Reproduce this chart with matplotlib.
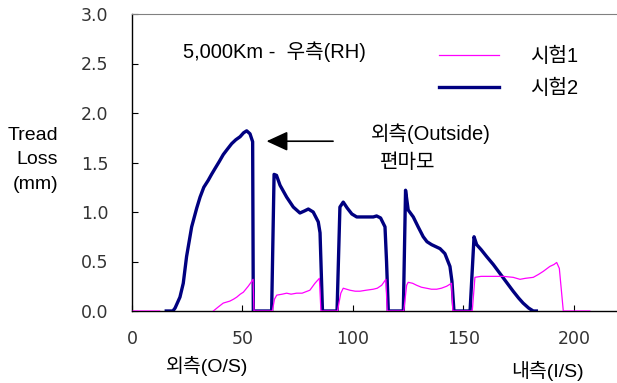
import numpy as np
import matplotlib
matplotlib.use("Agg")
import matplotlib.pyplot as plt

plt.rcParams["font.family"] = ["Liberation Sans", "Noto Sans CJK KR", "DejaVu Sans"]

# 시험1: position across the tread (mm) vs. tread loss (mm); NaN breaks the line
test1_x = [0.5, 12.5, np.nan,
           36.8, 39.0, 41.3, 44.3, 46.0, 47.4, 49.0, 50.4, 52.6, 54.2, 54.8, 55.2,
           63.5, 64.5, 65.5, 68.0, 70.0, 72.0, 74.5, 77.0, 80.5, 82.8, 84.8, 85.5,
           93.0, 94.5, 95.6, 98.6, 101.0, 103.2, 106.0, 109.2, 111.0, 113.0, 114.9, 115.5,
           123.0, 124.3, 125.0, 127.0, 128.8, 131.0, 133.3, 135.5, 137.9, 140.0, 142.4, 144.6, 145.2,
           154.0, 155.2, 158.0, 163.5, 168.0, 172.5, 175.6, 178.0, 181.6, 184.0, 186.1, 189.1,
           191.0, 192.2, 193.4, 195.2, 207.2]
test1_y = [0.0, 0.0, np.nan,
           0.0, 0.04, 0.08, 0.10, 0.12, 0.14, 0.17, 0.19, 0.25, 0.30, 0.32, 0.0,
           0.0, 0.12, 0.16, 0.17, 0.18, 0.17, 0.18, 0.18, 0.21, 0.28, 0.33, 0.0,
           0.0, 0.18, 0.23, 0.21, 0.20, 0.20, 0.21, 0.22, 0.23, 0.26, 0.32, 0.0,
           0.0, 0.26, 0.29, 0.28, 0.26, 0.24, 0.23, 0.22, 0.22, 0.23, 0.25, 0.28, 0.0,
           0.0, 0.34, 0.35, 0.35, 0.35, 0.34, 0.32, 0.33, 0.34, 0.37, 0.40, 0.45,
           0.47, 0.49, 0.43, 0.0, 0.0]

# 시험2
test2_x = [15.5, 18.5, 19.5, 21.7, 23.2, 24.7, 27.0, 29.3, 30.8, 32.5, 34.5, 36.0, 37.6, 39.5,
           41.3, 43.0, 45.1, 47.0, 48.9, 50.5, 51.9, 53.4, 54.6, 54.9,
           63.2, 64.3, 65.4, 67.0, 70.0, 73.0, 76.0, 78.0, 79.8, 82.0, 84.3, 85.1, 86.2,
           92.8, 94.1, 95.6, 97.4, 99.5, 101.7, 105.0, 109.2, 110.7, 112.5, 114.5, 115.2, 116.0,
           122.8, 123.8, 125.0, 127.3, 129.5, 131.8, 133.5, 135.6, 139.4, 141.6, 143.9, 144.8, 145.7,
           153.0, 154.8, 156.0, 158.0, 160.5, 163.5, 166.5, 169.5, 172.5, 175.0, 177.0, 179.5,
           181.6, 183.0]
test2_y = [0.0, 0.0, 0.03, 0.14, 0.28, 0.55, 0.85, 1.04, 1.15, 1.25, 1.32, 1.38, 1.44, 1.51,
           1.58, 1.63, 1.69, 1.73, 1.76, 1.80, 1.82, 1.79, 1.71, 0.0,
           0.0, 1.38, 1.37, 1.27, 1.15, 1.05, 0.99, 1.01, 1.03, 1.00, 0.90, 0.79, 0.0,
           0.0, 1.05, 1.10, 1.04, 0.98, 0.95, 0.95, 0.95, 0.96, 0.94, 0.85, 0.50, 0.0,
           0.0, 1.22, 1.02, 0.95, 0.85, 0.75, 0.70, 0.67, 0.63, 0.58, 0.45, 0.30, 0.0,
           0.0, 0.75, 0.67, 0.62, 0.55, 0.47, 0.38, 0.29, 0.20, 0.13, 0.08, 0.03,
           0.0, 0.0]

x_ticks = [0, 50, 100, 150, 200]
y_ticks = [0.0, 0.5, 1.0, 1.5, 2.0, 2.5, 3.0]

W, H = 617, 383

fig = plt.figure(figsize=(W / 100, H / 100), dpi=100)
ax = fig.add_axes([132 / W, 1 - 311 / H, 1 - 132 / W, 297 / H])

ax.plot(test2_x, test2_y, color="#000080", linewidth=2.4, label="시험2", zorder=2)
ax.plot(test1_x, test1_y, color="#FF00FF", linewidth=0.9, label="시험1", zorder=3)

ax.set_xlim(0, 219.5)
ax.set_ylim(0, 3.0)
ax.set_xticks(x_ticks)
ax.set_yticks(y_ticks)
ax.set_yticklabels([f"{v:.1f}" for v in y_ticks])
for lbl in ax.get_xticklabels() + ax.get_yticklabels():
    lbl.set_fontfamily("DejaVu Sans")
    lbl.set_fontsize(12.5)
    lbl.set_color("#333333")
ax.tick_params(axis="both", direction="in", length=4, width=0.8)
ax.tick_params(axis="y", pad=17)
ax.tick_params(axis="x", pad=14)

ax.spines["right"].set_visible(False)
ax.spines["top"].set_color("#808080")
ax.spines["left"].set_linewidth(1.0)
ax.spines["bottom"].set_linewidth(1.0)

# y label block left of the tick labels
fig.text(58 / W, 1 - 160 / H, "Tread\nLoss\n(mm)", ha="right", va="center",
         fontsize=14, linespacing=1.6)

# x-side labels under the axis
fig.text(207 / W, 1 - 366 / H, "외측(O/S)", ha="center", va="center", fontsize=14)
fig.text(547 / W, 1 - 371 / H, "내측(I/S)", ha="center", va="center", fontsize=14)

ax.text(23.0, (311 - 52) / 99, "5,000Km -  우측(RH)", ha="left", va="center", fontsize=14.5)

ax.annotate("", xy=(60.9, 1.715), xytext=(91.0, 1.715),
            arrowprops=dict(arrowstyle="-|>,head_length=0.65,head_width=0.3",
                            mutation_scale=20, color="black", lw=1.2,
                            shrinkA=0, shrinkB=0))
ax.text(135.3, (311 - 134) / 99, "외측(Outside)", ha="center", va="center", fontsize=14.5)
ax.text(124.9, (311 - 162) / 99, "편마모", ha="center", va="center", fontsize=14.5)

handles, labels = ax.get_legend_handles_labels()
ax.legend(handles[::-1], labels[::-1], loc="upper left",
          bbox_to_anchor=(439 / W, 1 - 47 / H), bbox_transform=fig.transFigure,
          frameon=False, fontsize=14.5, handlelength=3.0, handletextpad=1.5,
          labelspacing=0.62, borderpad=0, borderaxespad=0)

fig.savefig("out.png", dpi=100)
